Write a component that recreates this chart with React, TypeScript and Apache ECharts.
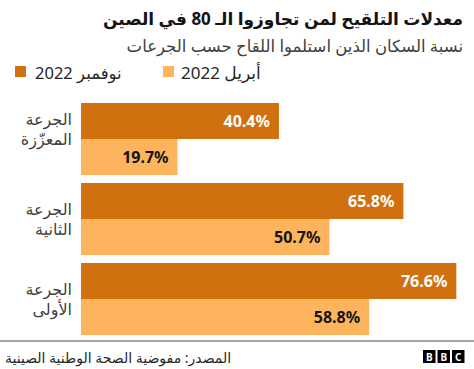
import React, { useEffect, useRef } from "react";
import * as echarts from "echarts";

const categories = ["الجرعة\nالمعزّزة", "الجرعة\nالثانية", "الجرعة\nالأولى"];
const novemberValues = [40.4, 65.8, 76.6];
const aprilValues = [19.7, 50.7, 58.8];
const seriesNames = ["نوفمبر 2022", "أبريل 2022"];
const titleText = "معدلات التلقيح لمن تجاوزوا الـ 80 في الصين";
const subtitleText = "نسبة السكان الذين استلموا اللقاح حسب الجرعات";
const sourceText = "المصدر: مفوضية الصحة الوطنية الصينية";

const DARK = "#D1700F";
const LIGHT = "#FDB45D";
const FONT = "'Noto Sans', 'DejaVu Sans', sans-serif";

export default function App() {
  const ref = useRef<HTMLDivElement>(null);
  useEffect(() => {
    if (!ref.current) return;
    const chart = echarts.init(ref.current, undefined, { renderer: "svg" });
    const bbcLetters = ["B", "B", "C"];
    chart.setOption({
      animation: false,
      textStyle: { fontFamily: FONT },
      grid: { left: 81, right: 1, top: 99, height: 240, containLabel: false },
      xAxis: {
        type: "value",
        min: 0,
        max: 80,
        show: false,
      },
      yAxis: {
        type: "category",
        data: categories,
        inverse: true,
        axisLine: { show: false },
        axisTick: { show: false },
        axisLabel: {
          color: "#404040",
          fontSize: 16,
          lineHeight: 20,
          margin: 9,
          align: "right",
          fontFamily: FONT,
          formatter: (v: string, i: number) => (i === 0 ? v + "\n " : v),
        },
      },
      series: [
        {
          name: seriesNames[0],
          type: "bar",
          data: novemberValues,
          barGap: "0%",
          barCategoryGap: "10%",
          itemStyle: { color: DARK },
          label: {
            show: true,
            position: "insideRight",
            distance: 9,
            color: "#ffffff",
            fontWeight: "bold",
            fontSize: 16,
            fontFamily: FONT,
            formatter: (p: any) => p.value.toFixed(1) + "%",
          },
        },
        {
          name: seriesNames[1],
          type: "bar",
          data: aprilValues,
          barGap: "0%",
          barCategoryGap: "10%",
          itemStyle: { color: LIGHT },
          label: {
            show: true,
            position: "insideRight",
            distance: 9,
            color: "#141414",
            fontWeight: "bold",
            fontSize: 16,
            fontFamily: FONT,
            formatter: (p: any) => p.value.toFixed(1) + "%",
          },
        },
      ],
      graphic: [
        {
          type: "text",
          right: 11,
          top: 10,
          style: { text: titleText, font: `bold 17px ${FONT}`, fill: "#141414", textAlign: "right" },
        },
        {
          type: "text",
          right: 11,
          top: 37,
          style: { text: subtitleText, font: `16.5px ${FONT}`, fill: "#404040", textAlign: "right" },
        },
        { type: "rect", shape: { x: 15, y: 66, width: 11, height: 11 }, style: { fill: DARK } },
        {
          type: "text",
          x: 35,
          y: 72,
          style: { text: seriesNames[0], font: `16.5px ${FONT}`, fill: "#262626", textVerticalAlign: "middle" },
        },
        { type: "rect", shape: { x: 163, y: 66, width: 11, height: 11 }, style: { fill: LIGHT } },
        {
          type: "text",
          x: 181,
          y: 72,
          style: { text: seriesNames[1], font: `17px ${FONT}`, fill: "#262626", textVerticalAlign: "middle" },
        },
        { type: "rect", shape: { x: 0, y: 340, width: 474, height: 2 }, style: { fill: "#a6a6a6" } },
        {
          type: "text",
          x: 5,
          y: 357,
          style: { text: sourceText, font: `14px ${FONT}`, fill: "#262626", textVerticalAlign: "middle" },
        },
        ...bbcLetters.flatMap((l, i) => [
          { type: "rect", shape: { x: 423 + i * 14.5, y: 350, width: 12.5, height: 13 }, style: { fill: "#000" } },
          {
            type: "text",
            x: 423 + i * 14.5 + 6.25,
            y: 356.8,
            style: { text: l, font: `bold 10px ${FONT}`, fill: "#fff", textAlign: "center", textVerticalAlign: "middle" },
          },
        ]),
      ],
    });
    return () => chart.dispose();
  }, []);
  return <div ref={ref} style={{ width: 474, height: 369, position: "absolute", left: 0, top: 0 }} />;
}
